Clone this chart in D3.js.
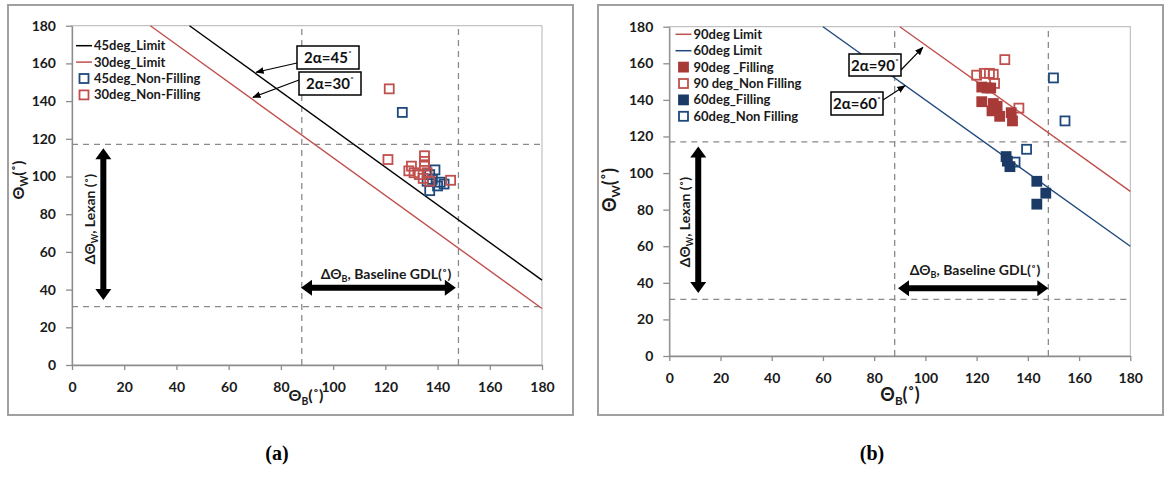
<!DOCTYPE html>
<html><head><meta charset="utf-8">
<script src="https://cdn.jsdelivr.net/npm/d3@7"></script>
<style>body{margin:0;background:#fff;} svg{display:block;font-family:Lato,'Open Sans',sans-serif;}</style>
</head><body>
<svg id="c" width="1165" height="497"></svg>
<script>
// ---------- shared ----------
const xTicks = [0,20,40,60,80,100,120,140,160,180];
const yTicks = [0,20,40,60,80,100,120,140,160,180];
const refB = [88,148];   // vertical dashed lines (ΘB)
const refW = [31,117];   // horizontal dashed lines (ΘW)

// ---------- panel (a) ----------
const limit45 = [[45,180],[180,45]];
const limit30 = [[30,180],[180,30]];
const nonFill45 = [[126.5,134],[139,103.5],[137,101],[138,98.5],[136,97.5],[141,97],[142.5,96],[140,95],[137,92.5]];
const nonFill30 = [[121.5,146.5],[121,109],[129,103],[130,105.5],[131,102],[133,101],[135,111],[135,108],[135,105.5],[136,102],[134.5,99],[137,97.5],[145,98]];
const legendA = ["45deg_Limit","30deg_Limit","45deg_Non-Filling","30deg_Non-Filling"];

// ---------- panel (b) ----------
const limit90 = [[90,180],[180,90]];
const limit60 = [[60,180],[180,60]];
const fill90 = [[122,147],[124,146.5],[125.5,146.5],[122,139],[126.5,138],[128,136.5],[126,134],[129,131],[133.5,133],[134,128.5]];
const nonFill90 = [[131,162],[120,153.5],[123,154.5],[125,154.5],[126.5,154],[127,149],[136.5,135.5]];
const fill60 = [[131.5,109],[132,106.5],[133,103.5],[143.5,95.5],[147,89],[143.5,83]];
const nonFill60 = [[150,152],[154.5,128.5],[139.5,113],[135,106]];
const legendB = ["90deg Limit","60deg Limit","90deg _Filling","90 deg_Non Filling","60deg_Filling","60deg_Non Filling"];

const RED = "#C0504D", RED_F = "#A83A37", BLUE = "#1F497D", BLUE_F = "#1B3B66", GRID = "#8a8a8a";

const svg = d3.select("#c");
svg.append("defs").append("marker").attr("id","ah").attr("viewBox","0 0 10 10").attr("refX",9).attr("refY",5)
  .attr("markerWidth",7).attr("markerHeight",7).attr("orient","auto-start-reverse")
  .append("path").attr("d","M0,1 L10,5 L0,9 Z").attr("fill","#000");

function thickArrow(g, p0, p1, shaft, headW, headL){
  const dx=p1[0]-p0[0], dy=p1[1]-p0[1], L=Math.hypot(dx,dy);
  const ux=dx/L, uy=dy/L, nx=-uy, ny=ux;
  const pt=(t,w)=>[p0[0]+ux*t+nx*w, p0[1]+uy*t+ny*w];
  const pts=[pt(0,0),pt(headL,headW/2),pt(headL,shaft/2),pt(L-headL,shaft/2),pt(L-headL,headW/2),pt(L,0),
             pt(L-headL,-headW/2),pt(L-headL,-shaft/2),pt(headL,-shaft/2),pt(headL,-headW/2)];
  g.append("path").attr("d","M"+pts.map(p=>p.join(",")).join("L")+"Z").attr("fill","#000");
}

function panel(cfg){
  const g = svg.append("g");
  g.append("rect").attr("x",cfg.frame[0]).attr("y",cfg.frame[1]).attr("width",cfg.frame[2]).attr("height",cfg.frame[3])
    .attr("fill","none").attr("stroke","#a0a0a0").attr("stroke-width",2);
  const x = d3.scaleLinear().domain([0,180]).range(cfg.xr);
  const y = d3.scaleLinear().domain([0,180]).range(cfg.yr);
  // plot border
  g.append("rect").attr("x",x(0)).attr("y",y(180)).attr("width",x(180)-x(0)).attr("height",y(0)-y(180))
    .attr("fill","none").attr("stroke","#b5b5b5").attr("stroke-width",1);
  // axes
  const xa = g.append("g").attr("transform",`translate(0,${y(0)})`)
    .call(d3.axisBottom(x).tickValues(xTicks).tickSize(5).tickPadding(12).tickSizeOuter(0));
  const ya = g.append("g").attr("transform",`translate(${x(0)},0)`)
    .call(d3.axisLeft(y).tickValues(yTicks).tickSize(6).tickPadding(10).tickSizeOuter(0));
  [xa,ya].forEach(a=>{
    a.selectAll("path,line").attr("stroke","#8c8c8c").attr("stroke-width",1.3);
    a.selectAll("text").attr("font-size",14).attr("font-weight","bold").attr("fill","#1a1a1a").attr("font-family","Lato,sans-serif");
  });
  // dashed reference lines
  refB.forEach(v=>g.append("line").attr("x1",x(v)).attr("x2",x(v)).attr("y1",y(0)).attr("y2",y(180))
     .attr("stroke",GRID).attr("stroke-width",1.3).attr("stroke-dasharray","6,5"));
  refW.forEach(v=>g.append("line").attr("x1",x(0)).attr("x2",x(180)).attr("y1",y(v)).attr("y2",y(v))
     .attr("stroke",GRID).attr("stroke-width",1.3).attr("stroke-dasharray","6,5"));
  // limit lines
  const line = d3.line().x(d=>x(d[0])).y(d=>y(d[1]));
  cfg.lines.forEach(l=>g.append("path").attr("d",line(l.data)).attr("fill","none").attr("stroke",l.color).attr("stroke-width",1.4));
  // arrows (thick)
  const a1 = cfg.vArrow, a2 = cfg.hArrow;
  thickArrow(g,[x(a1.b),y(a1.w0)],[x(a1.b),y(a1.w1)],6,16,11);
  thickArrow(g,[x(a2.b0),y(a2.w)],[x(a2.b1),y(a2.w)],6,16,11);
  // arrow labels
  const vl = g.append("text").attr("transform",`translate(${cfg.vLabel[0]},${cfg.vLabel[1]}) rotate(-90)`)
    .attr("text-anchor","middle").attr("font-size",14).attr("font-weight","bold").attr("fill","#1a1a1a");
  vl.append("tspan").text("ΔΘ");
  vl.append("tspan").text("W").attr("font-size",9).attr("dy",3);
  vl.append("tspan").text(", Lexan (˚)").attr("dy",-3);
  const hl = g.append("text").attr("x",cfg.hLabel[0]).attr("y",cfg.hLabel[1])
    .attr("text-anchor","middle").attr("font-size",14).attr("font-weight","bold").attr("fill","#1a1a1a");
  hl.append("tspan").text("ΔΘ");
  hl.append("tspan").text("B").attr("font-size",9).attr("dy",3);
  hl.append("tspan").text(", Baseline GDL(˚)").attr("dy",-3);
  // points
  cfg.points.forEach(s=>{
    g.append("g").selectAll("rect").data(s.data).join("rect")
      .attr("x",d=>x(d[0])-4.5).attr("y",d=>y(d[1])-4.5).attr("width",9).attr("height",9)
      .attr("fill",s.filled?s.color:"#fff").attr("fill-opacity",s.filled?1:0.0)
      .attr("stroke",s.color).attr("stroke-width",1.8);
  });
  // annotation boxes and thin arrows
  cfg.notes.forEach(n=>{
    g.append("line").attr("x1",n.from[0]).attr("y1",n.from[1]).attr("x2",x(n.tip[0])).attr("y2",y(n.tip[1]))
      .attr("stroke","#000").attr("stroke-width",1.2).attr("marker-end","url(#ah)");
    g.append("rect").attr("x",n.box[0]).attr("y",n.box[1]).attr("width",n.box[2]).attr("height",n.box[3])
      .attr("fill","#fff").attr("stroke","#000").attr("stroke-width",1.5);
    const t=g.append("text").attr("x",n.box[0]+n.box[2]/2).attr("y",n.box[1]+n.box[3]/2+5.5).attr("text-anchor","middle")
      .attr("font-size",15).attr("font-weight","bold").attr("fill","#111");
    t.append("tspan").text(n.text);
    t.append("tspan").text("˚").attr("font-size",10).attr("dy",-5);
  });
  // legend
  const lg = g.append("g").attr("font-size",13).attr("font-weight","bold").attr("fill","#1a1a1a");
  cfg.legend.forEach((name,i)=>{
    const yy = cfg.legPos[1] + i*cfg.legStep, it = cfg.legItems[i];
    if(it.type==="line"){
      lg.append("line").attr("x1",cfg.legPos[0]-8).attr("x2",cfg.legPos[0]+8).attr("y1",yy).attr("y2",yy).attr("stroke",it.color).attr("stroke-width",1.5);
    } else {
      lg.append("rect").attr("x",cfg.legPos[0]-4.5).attr("y",yy-4.5).attr("width",9).attr("height",9)
        .attr("fill",it.filled?it.color:"#fff").attr("stroke",it.color).attr("stroke-width",1.8);
    }
    lg.append("text").attr("x",cfg.legPos[0]+10).attr("y",yy+4.5).text(name);
  });
  // axis titles
  const yt = g.append("text").attr("transform",`translate(${cfg.yTitle[0]},${cfg.yTitle[1]}) rotate(-90)`)
    .attr("text-anchor","middle").attr("font-size",cfg.titleSize).attr("font-weight","bold").attr("fill","#1a1a1a");
  yt.append("tspan").text("Θ");
  yt.append("tspan").text("W").attr("font-size",cfg.titleSize*0.65).attr("dy",4);
  yt.append("tspan").text("(˚)").attr("dy",-4);
  const xt = g.append("text").attr("x",cfg.xTitle[0]).attr("y",cfg.xTitle[1])
    .attr("text-anchor","middle").attr("font-size",cfg.titleSize).attr("font-weight","bold").attr("fill","#1a1a1a");
  xt.append("tspan").text("Θ");
  xt.append("tspan").text("B").attr("font-size",cfg.titleSize*0.65).attr("dy",4);
  xt.append("tspan").text("(˚)").attr("dy",-4);
}

panel({
  frame:[8,5,565,410], xr:[72,542], yr:[365,25.7],
  lines:[{data:limit45,color:"#000"},{data:limit30,color:RED}],
  vArrow:{b:12,w0:115,w1:34.5}, hArrow:{b0:87.7,b1:147,w:41},
  vLabel:[95,219], hLabel:[386,279],
  points:[{data:nonFill45,color:BLUE,filled:false},{data:nonFill30,color:RED,filled:false}],
  notes:[{text:"2α=45",box:[297,46,62,23],from:[297,63],tip:[70.5,155.3]},
         {text:"2α=30",box:[299,72,62,23],from:[299,80],tip:[69.3,142]}],
  legend:legendA, legPos:[84,45.7], legStep:16.4,
  legItems:[{type:"line",color:"#000"},{type:"line",color:RED},{type:"sq",color:BLUE},{type:"sq",color:RED}],
  yTitle:[24,180], xTitle:[306,401], titleSize:16
});

panel({
  frame:[598,5,565,410], xr:[669.3,1130.3], yr:[356,26.7],
  lines:[{data:limit90,color:RED},{data:limit60,color:BLUE}],
  vArrow:{b:11.3,w0:114.5,w1:34.5}, hArrow:{b0:89.3,b1:148,w:37},
  vLabel:[690,222], hLabel:[975,275],
  points:[{data:nonFill90,color:RED,filled:false},{data:fill90,color:RED_F,filled:true},
          {data:nonFill60,color:BLUE,filled:false},{data:fill60,color:BLUE_F,filled:true}],
  notes:[{text:"2α=90",box:[849,54,52,22],from:[901,70],tip:[99,168.7]},
         {text:"2α=60",box:[831,92,52,23],from:[883,100],tip:[92,147.7]}],
  legend:legendB, legPos:[683.5,34.3], legStep:16.4,
  legItems:[{type:"line",color:RED},{type:"line",color:BLUE},{type:"sq",color:RED_F,filled:true},{type:"sq",color:RED},{type:"sq",color:BLUE_F,filled:true},{type:"sq",color:BLUE}],
  yTitle:[616,190], xTitle:[900,401], titleSize:18
});

// panel captions
svg.append("text").attr("x",277).attr("y",460).attr("text-anchor","middle").attr("font-family","'Liberation Serif','Times New Roman',serif")
  .attr("font-size",20).attr("font-weight","bold").text("(a)");
svg.append("text").attr("x",872).attr("y",460).attr("text-anchor","middle").attr("font-family","'Liberation Serif','Times New Roman',serif")
  .attr("font-size",20).attr("font-weight","bold").text("(b)");
</script>
</body></html>
